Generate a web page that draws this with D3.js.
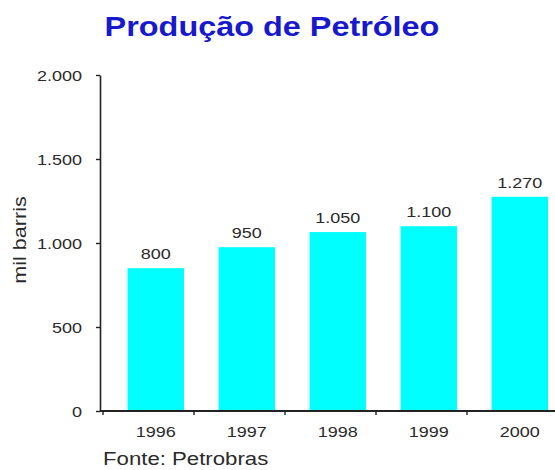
<!DOCTYPE html>
<html>
<head>
<meta charset="utf-8">
<script src="https://cdn.jsdelivr.net/npm/d3@7"></script>
<style>
  body { margin: 0; background: #fff; }
  text { font-family: "Liberation Sans", Arial, sans-serif; }
</style>
</head>
<body>
<script>
// data
var years = ["1996", "1997", "1998", "1999", "2000"];
var barValues = [850, 975, 1065, 1100, 1275];      // bar heights as drawn
var valueLabels = ["800", "950", "1.050", "1.100", "1.270"]; // printed labels
var yTicks = [0, 500, 1000, 1500, 2000];

var W = 555, H = 470;
var sx = 1.2; // the original text is rendered a bit wide

var svg = d3.select("body").append("svg")
    .attr("width", W)
    .attr("height", H);

var pt = d3.formatLocale({decimal: ",", thousands: ".", grouping: [3], currency: ["R$", ""]});
var fmt = pt.format(",d");

// band boundaries carry the x ticks, bars sit inside each band
var x = d3.scaleBand().domain(years).range([103, 558]).paddingInner(0).paddingOuter(0);
var y = d3.scaleLinear().domain([0, 2000]).range([411, 75]);

function barX(d) { return x(d) + x.bandwidth() * 0.27; }
var barW = x.bandwidth() * 0.62;

// stretch a text horizontally around its anchor point
function stretch(sel, fx) {
  sel.each(function() {
    var t = d3.select(this);
    var tx = +t.attr("x") || 0, ty = +t.attr("y") || 0;
    var rot = t.attr("data-rot");
    t.attr("x", 0).attr("y", 0)
      .attr("transform", "translate(" + tx + "," + ty + ")" + (rot ? " rotate(" + rot + ")" : "") + " scale(" + fx + ",1)");
  });
}

//Title
svg.append("text")
    .attr("x", 272)
    .attr("y", 36)
    .attr("text-anchor", "middle")
    .attr("font-size", "27px")
    .attr("font-weight", "bold")
    .attr("fill", "#1818cc")
    .text("Produção de Petróleo")
    .call(stretch, sx);

//Bars
svg.append("g").selectAll("rect")
    .data(years)
    .enter().append("rect")
    .attr("x", function(d) { return barX(d); })
    .attr("width", barW)
    .attr("y", function(d, i) { return y(barValues[i]); })
    .attr("height", function(d, i) { return y(0) - y(barValues[i]); })
    .attr("fill", "#00ffff");

//Value labels
svg.append("g").selectAll("text")
    .data(years)
    .enter().append("text")
    .attr("x", function(d) { return barX(d) + barW / 2; })
    .attr("y", function(d, i) { return y(barValues[i]) - 9; })
    .attr("text-anchor", "middle")
    .attr("font-size", "15px")
    .attr("fill", "#2a2a2a")
    .text(function(d, i) { return valueLabels[i]; })
    .call(stretch, sx);

//Y axis
var yAxis = d3.axisLeft(y).tickValues(yTicks).tickFormat(fmt).tickSize(4).tickSizeOuter(0).tickPadding(14);
var gy = svg.append("g")
    .attr("transform", "translate(100,0)")
    .call(yAxis);
gy.select(".domain").attr("stroke", "#222").attr("stroke-width", 1.6);
gy.selectAll(".tick line").attr("stroke", "#222").attr("stroke-width", 1.4);
gy.selectAll(".tick text")
    .attr("font-family", "Liberation Sans, Arial, sans-serif")
    .attr("font-size", "15px")
    .attr("fill", "#2a2a2a")
    .attr("dy", "0.35em")
    .call(stretch, sx);

//X axis line and the ticks between years
svg.append("line")
    .attr("x1", 100).attr("x2", W)
    .attr("y1", y(0)).attr("y2", y(0))
    .attr("stroke", "#222")
    .attr("stroke-width", 2);

svg.append("g").selectAll("line")
    .data(years)
    .enter().append("line")
    .attr("x1", function(d) { return x(d); })
    .attr("x2", function(d) { return x(d); })
    .attr("y1", y(0))
    .attr("y2", y(0) + 4)
    .attr("stroke", "#222")
    .attr("stroke-width", 1.4);

//Year labels
svg.append("g").selectAll("text")
    .data(years)
    .enter().append("text")
    .attr("x", function(d) { return barX(d) + barW / 2; })
    .attr("y", 437)
    .attr("text-anchor", "middle")
    .attr("font-size", "15px")
    .attr("fill", "#2a2a2a")
    .text(function(d) { return d; })
    .call(stretch, sx);

//Y label
svg.append("text")
    .attr("x", 26)
    .attr("y", 240)
    .attr("data-rot", -90)
    .attr("text-anchor", "middle")
    .attr("font-size", "18px")
    .attr("fill", "#2a2a2a")
    .text("mil barris")
    .call(stretch, sx);

//Source
svg.append("text")
    .attr("x", 103)
    .attr("y", 465)
    .attr("font-size", "18.5px")
    .attr("fill", "#2a2a2a")
    .text("Fonte: Petrobras")
    .call(stretch, sx);
</script>
</body>
</html>
